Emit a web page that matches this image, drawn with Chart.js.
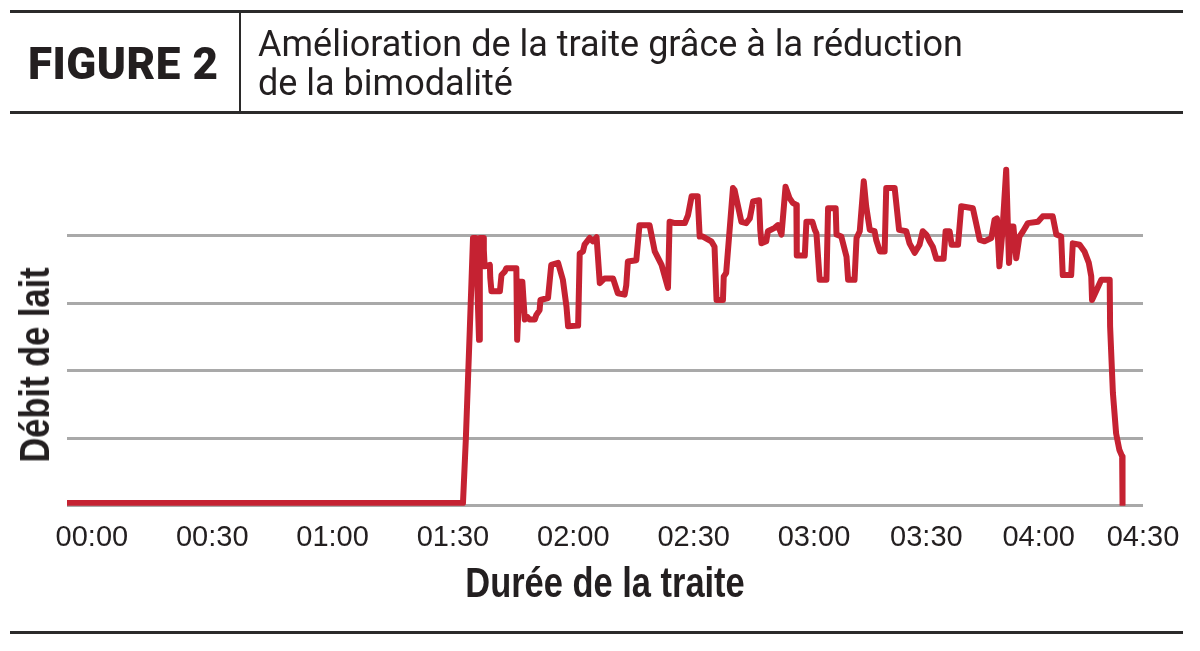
<!DOCTYPE html>
<html lang="fr">
<head>
<meta charset="utf-8">
<title>Figure 2</title>
<script src="https://cdn.jsdelivr.net/npm/chart.js@4.4.1/dist/chart.umd.min.js"></script>
<style>
	body { margin: 0; background: #fff; }
	#page { position: relative; width: 1200px; height: 651px; overflow: hidden; color: #231f20; }
	#myChart { position: absolute; left: 0; top: 0; }
	.rule { position: absolute; left: 10px; width: 1173px; height: 3px; background: #2b2a2a; }
	#sep { position: absolute; left: 239px; top: 12px; width: 2px; height: 100px; background: #2b2a2a; }
	#fig { position: absolute; left: 28px; top: 38px; font: 900 44px Roboto, sans-serif; letter-spacing: 0.5px; }
	#sub { position: absolute; left: 258px; top: 25px; font: 400 36px Roboto, sans-serif; line-height: 39px; }
	.atitle { position: absolute; font: bold 42px "Liberation Sans", Arial, sans-serif; white-space: nowrap; }
	#ytitle { left: 35px; top: 365px; transform: translate(-50%, -50%) rotate(-90deg) scaleX(0.82); }
	#xtitle { left: 605px; top: 583px; transform: translate(-50%, -50%) scaleX(0.82); }
</style>
</head>
<body>
<div id="page">
	<canvas id="myChart" width="1200" height="651"></canvas>
	<div class="rule" style="top:10px"></div>
	<div class="rule" style="top:111px"></div>
	<div class="rule" style="top:631px"></div>
	<div id="sep"></div>
	<div id="fig">FIGURE 2</div>
	<div id="sub">Amélioration de la traite grâce à la réduction<br>de la bimodalité</div>
	<div id="ytitle" class="atitle">Débit de lait</div>
	<div id="xtitle" class="atitle">Durée de la traite</div>
</div>
<script>
// temps en secondes depuis le début de la traite
var timeSec = [-6.2, 92.5, 93.2, 94.2, 95.0, 95.7, 96.5, 96.7, 97.5, 97.7, 97.9, 99.2, 99.3, 99.6, 101.7, 102.1, 102.9, 103.3,
	105.8, 106.0, 106.6, 107.3, 107.9, 108.5, 109.1, 110.4, 110.8, 111.6, 111.8, 113.7, 114.5, 116.2, 117.4, 118.3, 118.7,
	121.2, 121.6, 122.4, 122.8, 124.1, 124.9, 125.8, 126.6, 127.8, 129.9, 131.1, 132.8, 133.2, 133.6, 135.7, 136.5, 139.0,
	140.3, 142.0, 143.6, 144.0, 145.3, 147.8, 148.6, 149.5, 151.0, 151.5, 152.3, 154.4, 155.2, 155.7, 157.3, 157.5, 158.1,
	159.8, 160.2, 161.9, 163.1, 164.0, 164.8, 166.3, 166.6, 166.9, 168.1, 168.5, 170.2, 171.0, 171.9, 172.9, 173.9, 174.7,
	175.6, 175.7, 177.7, 178.1, 179.6, 180.2, 180.6, 181.4, 183.1, 183.5, 185.4, 185.6, 186.8, 188.1, 188.5, 190.1, 190.6,
	191.4, 192.4, 193.0, 193.9, 195.1, 195.5, 196.4, 197.6, 198.0, 200.1, 201.2, 203.0, 203.8, 205.1, 206.3, 207.1, 208.0,
	208.8, 209.6, 210.5, 212.3, 212.8, 213.8, 214.3, 215.9, 216.7, 219.6, 220.4, 221.3, 222.5, 224.2, 225.0, 225.6, 226.2,
	226.9, 227.9, 228.6, 229.2, 229.7, 230.4, 231.2, 232.1, 233.3, 235.8, 237.0, 239.5, 240.4, 241.6, 242.0, 244.1, 244.5,
	246.2, 247.4, 248.5, 249.1, 249.3, 250.3, 251.6, 253.7, 253.8, 254.5, 255.3, 256.1, 256.8, 256.9];
var debit = [0.04, 0.04, 0.97, 2.61, 3.97, 3.97, 2.46, 3.97, 3.97, 3.79, 3.55, 3.57, 3.38, 3.18, 3.18, 3.42, 3.47, 3.52,
	3.52, 2.46, 3.32, 3.32, 2.76, 2.80, 2.76, 2.76, 2.83, 2.90, 3.05, 3.08, 3.57, 3.60, 3.35, 2.95, 2.66,
	2.67, 3.74, 3.77, 3.87, 3.97, 3.92, 3.98, 3.30, 3.37, 3.37, 3.15, 3.13, 3.27, 3.62, 3.64, 4.16, 4.16,
	3.77, 3.57, 3.23, 4.21, 4.19, 4.19, 4.31, 4.59, 4.59, 3.99, 3.99, 3.92, 3.84, 3.05, 3.05, 3.40, 3.45,
	4.71, 4.68, 4.21, 4.19, 4.26, 4.51, 4.53, 4.09, 3.89, 3.92, 4.07, 4.12, 4.16, 4.02, 4.73, 4.56, 4.49,
	4.46, 3.71, 3.71, 4.21, 4.21, 4.09, 4.04, 3.35, 3.35, 4.41, 4.41, 4.02, 3.99, 3.69, 3.35, 3.35, 3.97,
	4.07, 4.81, 4.44, 4.09, 4.07, 3.94, 3.77, 3.77, 4.71, 4.71, 4.09, 4.07, 3.89, 3.75, 3.87, 4.07, 4.02,
	3.92, 3.84, 3.66, 3.66, 4.07, 4.07, 3.87, 3.87, 4.44, 4.41, 4.19, 3.94, 3.92, 3.97, 4.24, 4.26, 3.55,
	4.02, 4.98, 3.60, 4.14, 4.14, 3.67, 3.99, 4.07, 4.19, 4.21, 4.29, 4.29, 4.02, 3.99, 3.42, 3.42, 3.89,
	3.87, 3.77, 3.60, 3.40, 3.05, 3.18, 3.35, 3.35, 2.66, 1.67, 1.07, 0.83, 0.73, 0.02];
// graduations de l'axe des temps, telles que placées sur la figure
var tickSecs = [0, 30, 60, 90, 120, 150, 180, 208, 236, 262];
var tickLabels = ['00:00', '00:30', '01:00', '01:30', '02:00', '02:30', '03:00', '03:30', '04:00', '04:30'];

const ctx = document.getElementById('myChart');
const points = timeSec.map((t, i) => ({ x: t, y: debit[i] }));

new Chart(ctx, {
	type: 'line',
	data: {
		datasets: [{
			data: points,
			borderColor: '#c52232',
			borderWidth: 6,
			pointRadius: 0,
			tension: 0,
			borderJoinStyle: 'round',
			borderCapStyle: 'butt'
		}]
	},
	options: {
		responsive: false,
		animation: false,
		devicePixelRatio: 1,
		layout: { padding: { left: 67, right: 57, top: 155, bottom: 0 } },
		plugins: { legend: { display: false }, tooltip: { enabled: false } },
		scales: {
			x: {
				type: 'linear',
				min: -6.2,
				max: 262,
				grid: { display: false, drawTicks: false },
				border: { display: false },
				afterBuildTicks: scale => { scale.ticks = tickSecs.map(v => ({ value: v })); },
				afterFit: scale => { scale.height = 145.3; },
				ticks: {
					autoSkip: false,
					maxRotation: 0,
					padding: 15,
					color: '#231f20',
					font: { family: '"Liberation Sans", Arial, sans-serif', size: 29 },
					callback: (value, index) => tickLabels[index]
				}
			},
			y: {
				min: 0,
				max: 5.2,
				grid: {
					drawTicks: false,
					lineWidth: 3,
					color: c => c.tick.value <= 4 ? '#a9a9a9' : 'rgba(0,0,0,0)'
				},
				border: { display: false },
				ticks: { stepSize: 1, display: false }
			}
		}
	}
});
</script>
</body>
</html>
